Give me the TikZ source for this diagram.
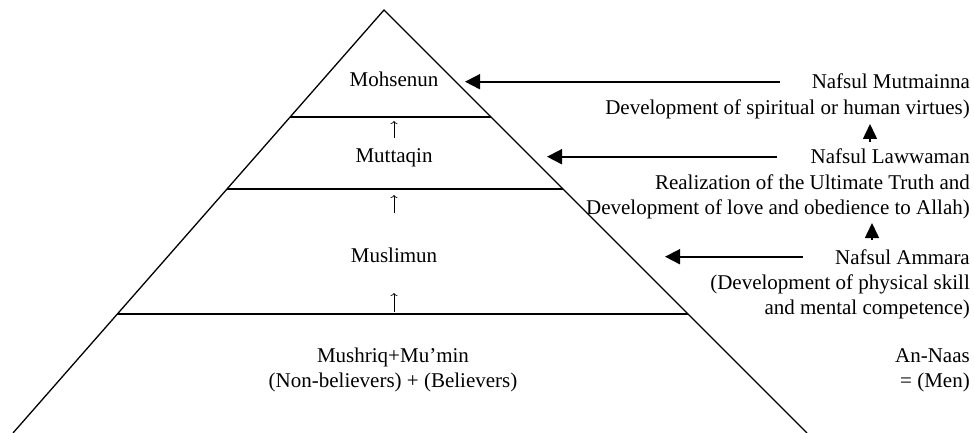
\documentclass[tikz,border=0pt]{standalone}
\usepackage{fontspec}
\setmainfont{Liberation Serif}
\usetikzlibrary{arrows.meta,calc}
\begin{document}
\begin{tikzpicture}[x=1pt,y=-1pt,
  txt/.style={font=\fontsize{21}{25}\selectfont, inner sep=0pt},
  pyr/.style={line width=1.3pt},
  bigarr/.style={line width=1.8pt,-{Triangle[width=15pt,length=15pt]}},
  tri/.style={line width=1.5pt,-{Triangle[width=14pt,length=15pt]}},
  smallarr/.style={line width=0.7pt,-{To[length=3pt,width=7pt]}}]
\useasboundingbox (0,0) rectangle (974,433);
% pyramid
\coordinate (apex) at (384,10);
\coordinate (bl) at (13,433);
\coordinate (br) at (807,433);
\draw[pyr] (bl) -- (apex) -- (br);
\draw[pyr] ($(apex)!0.25296!(bl)$) -- ($(apex)!0.25296!(br)$);
\draw[pyr] ($(apex)!0.42317!(bl)$) -- ($(apex)!0.42317!(br)$);
\draw[pyr] ($(apex)!0.71868!(bl)$) -- ($(apex)!0.71868!(br)$);
% levels
\node[txt, anchor=base] (moh) at (394,87) {Mohsenun};
\node[txt, anchor=base] (mut) at (394,162) {Muttaqin};
\node[txt, anchor=base] (mus) at (394,262) {Muslimun};
\node[txt, anchor=base] (mush) at (393,362) {Mushriq+Mu’min};
\node[txt, anchor=base] (nonb) at (393,387) {(Non-believers) + (Believers)};
% small up arrows
\coordinate (s1a) at (394,138); \coordinate (s1b) at (394,121);
\coordinate (s2a) at (394,213); \coordinate (s2b) at (394,195);
\coordinate (s3a) at (394,312); \coordinate (s3b) at (394,293);
\draw[smallarr] (s1a) -- (s1b);
\draw[smallarr] (s2a) -- (s2b);
\draw[smallarr] (s3a) -- (s3b);
% right texts
\node[txt, anchor=base east] (mutT) at (970,89) {Nafsul Mutmainna};
\node[txt, anchor=base east] (mutD) at (970,115) {Development of spiritual or human virtues)};
\node[txt, anchor=base east] (lawT) at (970,164) {Nafsul Lawwaman};
\node[txt, anchor=base east] (lawD1) at (970,189) {Realization of the Ultimate Truth and};
\node[txt, anchor=base east] (lawD2) at (970,214) {Development of love and obedience to Allah)};
\node[txt, anchor=base east] (ammT) at (970,264) {Nafsul Ammara};
\node[txt, anchor=base east] (ammD1) at (970,289) {(Development of physical skill};
\node[txt, anchor=base east] (ammD2) at (970,314) {and mental competence)};
\node[txt, anchor=base east] (naas) at (970,362) {An-Naas};
\node[txt, anchor=base east] (men) at (970,387) {= (Men)};
% big arrows
\coordinate (tipA) at (465,0);
\coordinate (tipB) at (547,0);
\coordinate (tipC) at (665,0);
\draw[bigarr, shorten <=32pt] (mutT.west) -- (mutT.west -| tipA);
\draw[bigarr, shorten <=33pt] (lawT.west) -- (lawT.west -| tipB);
\draw[bigarr, shorten <=32pt] (ammT.west) -- (ammT.west -| tipC);
% up triangles
\coordinate (u1a) at (870,142); \coordinate (u1b) at (870,124);
\coordinate (u2a) at (872,240); \coordinate (u2b) at (872,223);
\draw[tri] (u1a) -- (u1b);
\draw[tri] (u2a) -- (u2b);
\end{tikzpicture}
\end{document}
